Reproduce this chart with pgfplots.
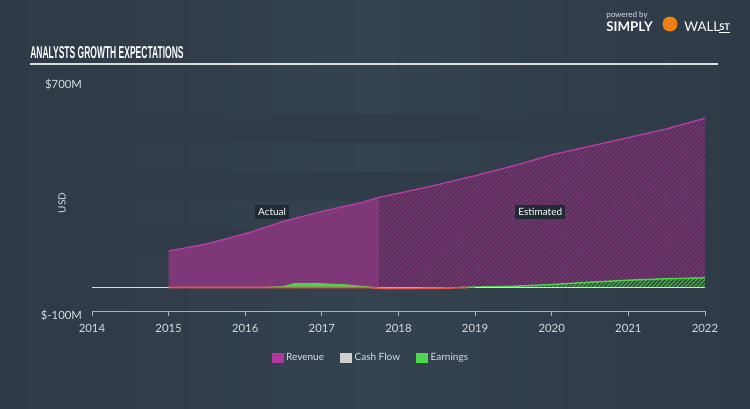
\documentclass[border=0pt]{standalone}
\usepackage{pgfplots}
\pgfplotsset{compat=1.18}
\usepackage{graphicx}
\usepackage{fontspec}
\setmainfont{Lato}
\newfontfamily\titlefont{Liberation Sans}
\usetikzlibrary{patterns.meta}
\definecolor{bgc}{HTML}{35424F}
\definecolor{bgd}{HTML}{2E3A46}
\definecolor{band}{HTML}{303C48}
\definecolor{revact}{HTML}{7E3877}
\definecolor{revest}{HTML}{6E376C}
\definecolor{revhatch}{HTML}{4C2A52}
\definecolor{revline}{HTML}{B23FA4}
\definecolor{earn}{HTML}{4ED34E}
\definecolor{earnest}{HTML}{2E5A38}
\definecolor{earnhatch}{HTML}{58C458}
\definecolor{redl}{HTML}{E8544C}
\definecolor{zerol}{HTML}{D8DDE2}
\definecolor{axl}{HTML}{A9B3BD}
\definecolor{tickc}{HTML}{D8DDE2}
\definecolor{boxc}{HTML}{1F2A33}
\definecolor{legrev}{HTML}{B0379E}
\definecolor{legcf}{HTML}{D0D0D0}
\definecolor{legearn}{HTML}{4CD94C}
\begin{document}
\begin{tikzpicture}
\begin{scope}[x=0.75pt,y=-0.75pt]
\shade[left color=bgd,right color=bgd,middle color=bgc] (0,0) rectangle (750,408);
\node[anchor=base west,inner sep=0,text=white] at (30,58) {\resizebox{115pt}{9pt}{\titlefont\bfseries ANALYSTS GROWTH EXPECTATIONS}};
\draw[color=zerol,line width=1.1pt] (30,64) -- (718,64);
\node[anchor=base west,inner sep=0,text=zerol,font=\fontsize{6}{7}\selectfont] at (606,17) {powered by};
\node[anchor=base west,inner sep=0,text=white,font=\fontsize{10}{11}\selectfont\bfseries] at (606,31) {SIMPLY};
\fill[orange!70!brown] (670,24) circle (7.5);
\node[anchor=base west,inner sep=0,text=white,font=\fontsize{10}{11}\selectfont] at (684,31) {WALL};
\node[anchor=base west,inner sep=0,text=white,font=\fontsize{7}{8}\selectfont\bfseries] at (719,30) {\underline{ST}};
\end{scope}
\begin{axis}[
  at={(69pt,-237pt)}, anchor=south west,
  width=459.75pt, height=173.25pt, scale only axis,
  xmin=2014, xmax=2022, ymin=-100, ymax=700,
  axis line style={draw=none},
  major tick length=0pt,
  xtick={2014,2015,2016,2017,2018,2019,2020,2021,2022},
  xticklabels={2014,2015,2016,2017,2018,2019,2020,2021,2022},
  ytick={-100,700},
  yticklabels={\$-100M,\$700M},
  tick label style={font=\fontsize{8.5}{10}\selectfont, text=tickc},
  xticklabel style={yshift=-3pt},
  yticklabel style={xshift=-4pt},
  ylabel={USD},
  ylabel style={at={(axis description cs:-0.049,0.489)}, anchor=center, font=\fontsize{7.5}{9}\selectfont, text=tickc},
  clip=false,
  legend columns=3,
  legend style={at={(axis description cs:0.4555,-0.18)}, anchor=center, draw=none, fill=none,
    text=tickc, font=\fontsize{7.5}{9}\selectfont,
    /tikz/every even column/.append style={column sep=10pt}},
  legend image code/.code={\fill[#1] (0pt,-3.3pt) rectangle (8.5pt,3.5pt);},
]
\addlegendimage{legrev}
\addlegendentry{Revenue}
\addlegendimage{legcf}
\addlegendentry{Cash Flow}
\addlegendimage{legearn}
\addlegendentry{Earnings}
% background bands
\fill[band] (axis cs:2014,100) rectangle (axis cs:2022,200);
\fill[band] (axis cs:2014,300) rectangle (axis cs:2022,400);
\fill[band] (axis cs:2014,500) rectangle (axis cs:2022,600);
% zero line (cash flow)
\addplot[forget plot, color=zerol, line width=0.9pt] coordinates {(2014,0) (2022,0)};
% revenue actual
\addplot[forget plot, draw=none, fill=revact] coordinates {
(2015,0) (2015,125) (2015.5,150) (2016,185) (2016.5,228) (2017,262) (2017.5,292) (2017.75,311) (2017.75,0)} -- cycle;
% revenue estimated
\addplot[forget plot, draw=none, fill=revest,
  postaction={pattern={Lines[angle=45,distance=2.4pt,line width=0.55pt]}, pattern color=revhatch}] coordinates {
(2017.75,0) (2017.75,311) (2018,325) (2018.5,354) (2019,386) (2019.5,420) (2020,458) (2020.5,488) (2021,518) (2021.5,548) (2022,585) (2022,0)} -- cycle;
% revenue top line
\addplot[forget plot, color=revline, line width=1pt] coordinates {
(2015,125) (2015.5,150) (2016,185) (2016.5,228) (2017,262) (2017.5,292) (2017.75,311) (2018,325) (2018.5,354) (2019,386) (2019.5,420) (2020,458) (2020.5,488) (2021,518) (2021.5,548) (2022,585)};
% earnings actual bump
\addplot[forget plot, draw=none, fill=earn] coordinates {
(2016.2,0) (2016.5,4) (2016.65,15) (2016.9,15) (2017.3,10) (2017.6,3) (2017.7,0)} -- cycle;
% earnings estimated
\addplot[forget plot, draw=none, fill=earnest,
  postaction={pattern={Lines[angle=45,distance=2.2pt,line width=0.5pt]}, pattern color=earnhatch}] coordinates {
(2019,0) (2019.5,3) (2020,9) (2020.5,17) (2021,24) (2021.5,29) (2022,32) (2022,0)} -- cycle;
\addplot[forget plot, color=earn, line width=1.1pt] coordinates {
(2018.8,-1) (2019,0) (2019.5,3) (2020,9) (2020.5,17) (2021,24) (2021.5,29) (2022,32)};
% zero line over the estimated area
\addplot[forget plot, color=zerol, line width=0.8pt] coordinates {(2019,0) (2022,0)};
% red line
\addplot[forget plot, color=redl, line width=1.3pt] coordinates {
(2015,-1) (2016,-1) (2017.6,-1) (2017.8,-5) (2018.5,-4) (2018.9,-1)};
% x axis line and ticks
\draw[axl, line width=0.6pt] (axis cs:2014,-83) -- (axis cs:2022,-83);
\pgfplotsinvokeforeach{2014,2015,2016,2017,2018,2019,2020,2021,2022}{
  \draw[axl, line width=0.6pt] (axis cs:#1,-83) -- ++(0pt,-4pt);
}
% labels
\node[fill=boxc, text=white, font=\fontsize{7.5}{9}\selectfont, inner sep=2.5pt] at (axis cs:2016.35,261) {Actual};
\node[fill=boxc, text=white, font=\fontsize{7.5}{9}\selectfont, inner sep=2.5pt] at (axis cs:2019.85,261) {Estimated};
\end{axis}
\pgfresetboundingbox
\useasboundingbox (0pt,0pt) rectangle (562.5pt,-306pt);
\end{tikzpicture}
\end{document}
